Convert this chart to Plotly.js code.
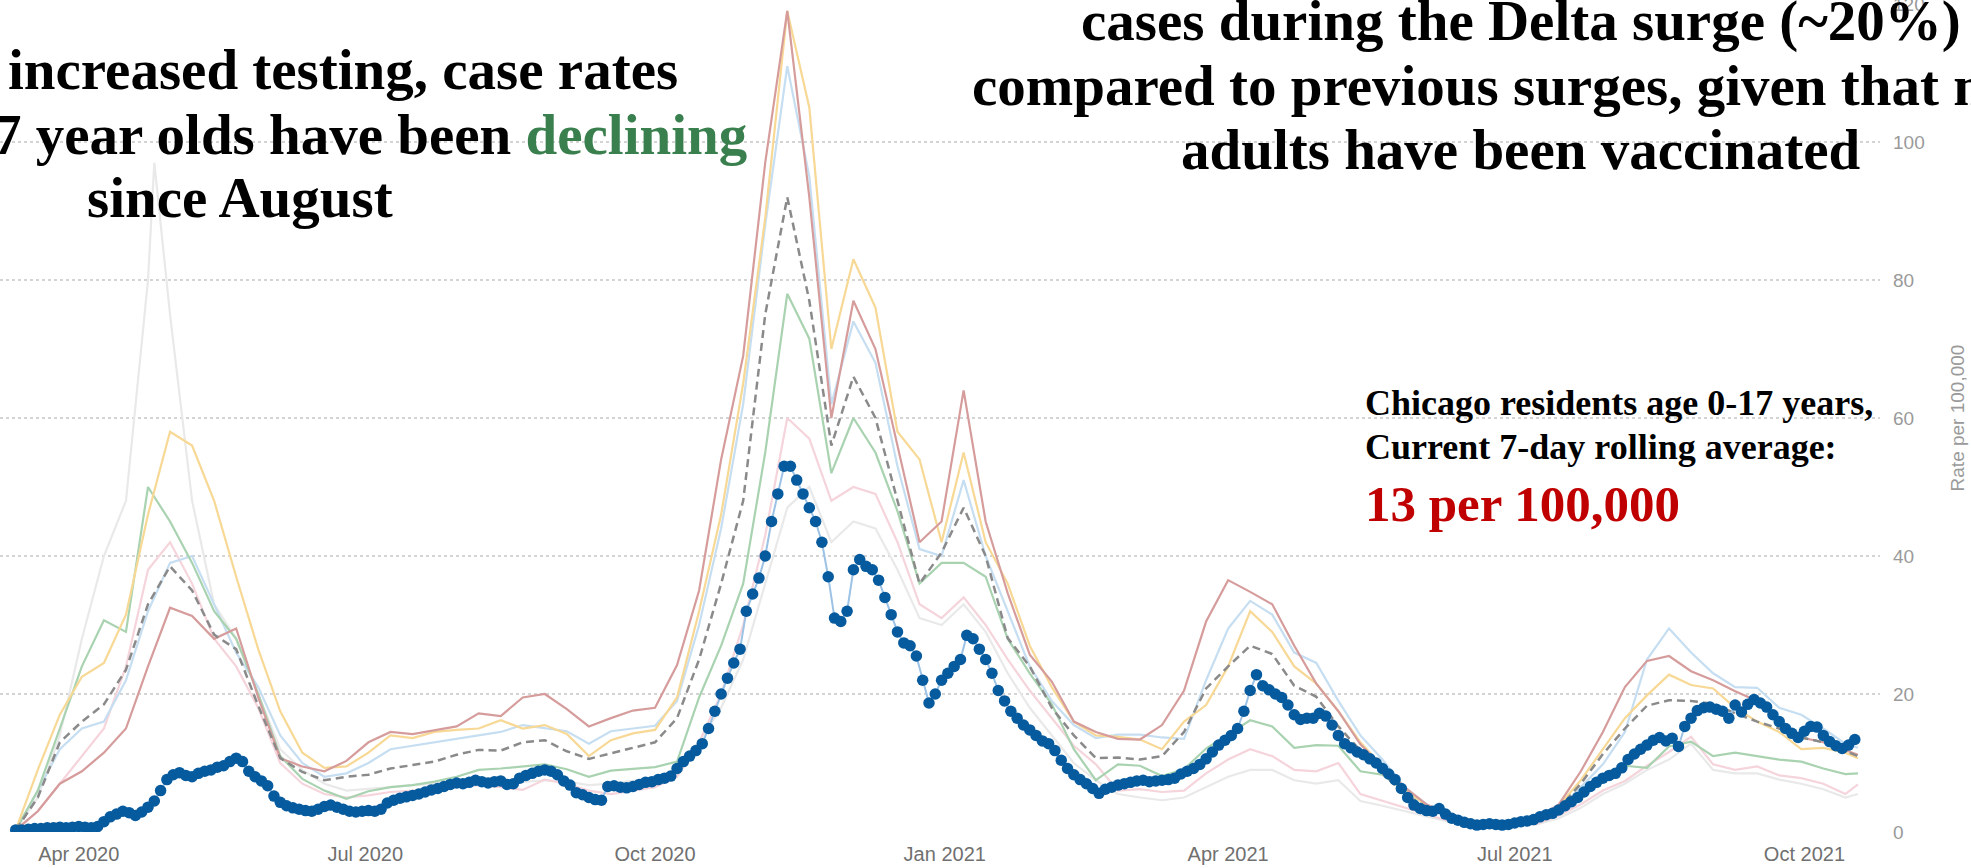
<!DOCTYPE html>
<html>
<head>
<meta charset="utf-8">
<script src="https://cdn.plot.ly/plotly-3.0.1.min.js"></script>
<style>
  html, body { margin:0; padding:0; background:#fff; }
  #chart { width:1971px; height:868px; }
</style>
</head>
<body>
<div id="chart"></div>
<script>
// ---------- DATA (rate per 100,000, 7-day rolling average) ----------
// Chicago residents age 0-17: one value every 2 days starting 2020-03-12
const rate0to17 = [
  0.3,0.3,0.4,0.5,0.5,0.6,0.6,0.7,0.6,0.7,
  0.8,0.7,0.6,0.8,1.5,2.2,2.6,3.0,2.8,2.4,
  2.9,3.6,4.5,6.0,7.6,8.3,8.6,8.2,8.0,8.5,
  8.8,9.0,9.4,9.6,10.2,10.7,10.2,8.8,8.0,7.4,
  6.7,5.2,4.3,3.8,3.5,3.3,3.1,3.0,3.3,3.7,
  3.9,3.6,3.3,3.0,2.9,3.0,3.1,3.0,3.3,4.2,
  4.6,4.9,5.1,5.3,5.5,5.8,6.1,6.3,6.6,6.9,
  7.1,7.0,7.2,7.5,7.3,7.1,7.3,7.4,6.9,7.0,
  7.8,8.2,8.5,8.8,9.0,8.8,8.3,7.4,6.8,5.7,
  5.4,5.0,4.7,4.6,6.6,6.7,6.5,6.4,6.6,6.9,
  7.2,7.3,7.6,7.8,8.1,9.2,10.2,11.0,11.8,12.8,
  15.0,17.5,20.0,22.3,24.5,26.5,32.0,34.5,36.8,40.0,
  45.0,49.0,53.0,53.0,51.0,49.0,47.0,45.0,42.0,37.0,
  31.0,30.5,32.0,38.0,39.5,38.5,38.0,36.5,34.0,31.5,
  29.0,27.4,27.0,25.5,22.0,18.7,20.0,22.0,23.0,24.0,
  25.0,28.5,28.0,26.5,25.0,23.0,20.5,19.0,17.5,16.5,
  15.5,14.8,14.0,13.2,12.8,11.8,10.4,9.2,8.3,7.6,
  7.0,6.3,5.6,6.2,6.5,6.8,7.0,7.2,7.4,7.5,
  7.3,7.4,7.5,7.6,7.8,8.4,8.8,9.2,9.8,10.6,
  11.6,12.6,13.3,14.0,15.0,17.5,20.5,22.8,21.2,20.6,
  20.0,19.5,18.4,17.0,16.3,16.5,16.5,17.2,16.8,15.5,
  14.0,12.8,12.2,11.6,11.2,10.6,10.0,9.2,8.4,7.6,
  6.3,5.0,3.9,3.4,3.1,3.0,3.4,2.6,2.0,1.7,
  1.4,1.2,1.0,1.1,1.2,1.1,1.0,1.1,1.3,1.5,
  1.6,1.8,2.2,2.5,2.7,3.2,3.8,4.4,5.0,5.8,
  6.6,7.2,7.8,8.2,8.5,9.3,10.5,11.3,12.0,12.6,
  13.3,13.7,13.2,13.6,12.4,15.3,16.5,17.6,18.0,18.1,
  17.8,17.5,16.5,18.4,17.4,18.5,19.2,18.7,18.1,17.0,
  16.0,15.0,14.3,13.7,14.6,15.3,15.2,14.0,13.1,12.5,
  12.1,12.6,13.4
];
const start0to17 = '2020-03-12';
const step0to17Days = 2;

// Other groups: one value per week starting 2020-03-12, last value on 2021-10-18
const weeklyStart = '2020-03-12';
const lastDate = '2021-10-18';

const rateCitywide = [
  0.3,5,13,16,18.5,23.5,33,38.5,35,28.6,
  26.5,18.3,10.7,8.7,7.5,8,8.3,9.2,9.7,10.2,
  11.2,11.9,11.8,13,13.3,11.7,10.6,11.4,12.1,13,
  16.5,25,36,48,75,92,77,56,66,60,
  48,36,40.5,47,40,28.1,24,18,14,10.7,
  10.8,10.5,11,14.5,20.8,24,27,25.8,21.2,19.6,
  15.3,11.8,8.5,5.5,3.6,2.2,1.4,1.1,1.2,1.7,
  3.4,7,11.3,15,18.3,19.1,19,18.6,17.2,16,
  15,13.7,13,11.7,11
];
const rateRose = [
  0.3,3,7,8.8,11.5,15,24,32.5,31.3,28,
  29.5,19.5,10.7,9.5,8.8,10.3,13,14.5,14.2,14.7,
  15.3,17.2,16.8,19.5,20,17.8,15.3,16.5,17.6,18,
  24.2,35,54,69,97,119,92,60,77,70,
  56,42,45,64,45,34.6,25.7,21.8,16,14.5,
  13.5,13.4,15.5,20.5,30.5,36.5,34.8,33,27,21.5,
  17.5,12.7,9.5,6.5,4,2.5,1.6,1.3,1.4,2,
  4,8.8,14.5,21,24.8,25.5,23.3,22,20.4,19,
  16,13.7,13,11.8,11.2
];
const rateYellow = [
  0.3,9,17,22.5,24.5,31.5,46,58,56,48,
  37,26.5,17.5,11.5,9.3,9.5,11.5,14,13.6,14.5,
  14.8,15,16.2,15,15.5,14.2,11,13.3,14.3,14.8,
  19.5,32,46,65,89,119,105,70,83,76,
  58,54,42,55,42,36,27,21,16,14,
  13.8,13.4,12,16,18.4,24,32,29,24,21.5,
  17.5,13,9.5,6.3,3.8,2.4,1.5,1.2,1.2,1.8,
  3.8,7.5,12,16.5,19.8,22.8,21.3,20.8,18,16,
  14.5,12,12.2,11.5,10.7
];
const rateLightBlue = [
  0.3,6,12,15,16,22,32,39,40,33,
  26,21,14,10,8,8.5,10,12,12.5,13,
  13.5,14,14.5,15.5,15.1,14.6,12.8,14.6,15,15.4,
  19,30,44,62,88,111,95,62,74,68,
  53,41,40,51,40,32,24,19,15.5,13.6,
  14.1,14.1,13.7,13.5,22,29.5,33.5,31.5,26,24.5,
  19,14,10.5,6.5,4,2.5,1.6,1.2,1.2,1.8,
  3.3,6.5,9.8,14.5,25,29.5,26,23,21,20.9,
  18,17,15,12.8,12.2
];
const rateGreen = [
  0.3,6,15,24,30.7,29,50,45,39,32,
  28,20,11,7.7,6,4.8,5.9,6.5,6.8,7.3,
  8,9,9.2,9.5,9.8,9.1,8,8.9,9.1,9.4,
  10.2,19.5,27,36,55,78,71.5,52,60,55,
  46.5,36,39,39,37,28,23,18.5,12,7.5,
  9.8,9.6,8.1,9.1,12.1,14.1,16.2,15.3,12.2,12.6,
  12.5,8.8,8.3,6,4,2.3,1.5,1.1,1.1,1.5,
  3.2,5,8.1,9.6,9.3,12.4,13.1,11,11.5,11,
  10.5,10.2,9.2,8.4,8.5
];
const ratePink = [
  0.2,3,7,11,15,24,38,42,36,28,
  24,18,10,7,5.5,5,5.3,5.8,6,6.4,
  6.6,6.8,6.5,6.1,7.6,7,6,5.5,6,6.5,
  8,13,20,30,43,60,57,48,50,49,
  42,33,31,34,30,25,20.5,16.5,12.5,9.8,
  6,6.2,5.8,6,8.5,10.5,12,11,9,8.8,
  10,5.5,4.5,3.5,2.5,1.6,1.1,0.9,0.9,1.2,
  2.4,4,6,7.4,9.6,11.6,13.8,9.8,9,9.5,
  8.2,7.8,7,5.5,6.9
];
// faint grey group: weekly plus its sharp spike on 2020-04-25
const greySpikeDate = '2020-04-25';
const greySpikeIndex = 7;
const rateGrey = [
  0.3,5,14,28,40,48,80,97,75,48,33,
  28,20,12,9,7,6,6.2,6.5,6.8,7,
  7.2,7.4,7,7.2,7.5,7.3,6.8,7,7.4,7.8,
  9,13,18,25,36,47,50,42,45,44,
  38,31,30,33,29,23,18,14,10,7.5,
  5.5,5,4.6,5,6.5,8,9,9,7.5,7,
  7.5,4.5,3.8,3,2.2,1.5,1,0.8,0.9,1.1,
  2,3.5,5.5,7,9,10.5,12.8,9,8.5,8.5,
  7.6,7,6.2,5,5.5
];

const xTickFormat = '%b %Y';
const yTitle = 'Rate per 100,000';

// ---------- helpers ----------
function dayList(start, stepDays, n) {
  const t0 = Date.parse(start + 'T00:00:00Z');
  const out = [];
  for (let i = 0; i < n; i++) out.push(new Date(t0 + i * stepDays * 86400000).toISOString().slice(0, 10));
  return out;
}
const dates0to17 = dayList(start0to17, step0to17Days, rate0to17.length);
const weeklyDates = dayList(weeklyStart, 7, rateCitywide.length - 1).concat([lastDate]);
const greyDates = weeklyDates.slice(0, greySpikeIndex).concat([greySpikeDate], weeklyDates.slice(greySpikeIndex));

function faint(y, color, x) {
  return { x: x || weeklyDates, y: y, type: 'scatter', mode: 'lines',
           line: { color: color, width: 2.2 }, hoverinfo: 'skip' };
}

const traces = [
  faint(rateGrey, '#e9e9e9', greyDates),
  faint(ratePink, '#f5d4db'),
  faint(rateLightBlue, '#c6def1'),
  faint(rateGreen, '#a9d3b0'),
  faint(rateYellow, '#f7d895'),
  faint(rateRose, '#d69c9c'),
  { x: weeklyDates, y: rateCitywide, type: 'scatter', mode: 'lines',
    line: { color: '#8a8a8a', width: 2.5, dash: '8px,5px' }, hoverinfo: 'skip' },
  { x: dates0to17, y: rate0to17, type: 'scatter', mode: 'lines+markers',
    line: { color: '#9cc2e5', width: 2 },
    marker: { color: '#065a9e', size: 11.5 }, hoverinfo: 'skip' }
];

// ---------- layout ----------
const W = 1971, H = 868, ML = 0, MR = 91, MT = 4, MB = 36;
const PW = W - ML - MR, PH = H - MT - MB;
const px = v => (v - ML) / PW;
const py = v => (H - MB - v) / PH;

const serif = 'Liberation Serif, Times New Roman, serif';
const big = 57;
function note(text, x, yBottom, anchor, size, color) {
  return { xref: 'paper', yref: 'paper', x: px(x), y: py(yBottom), xanchor: anchor, yanchor: 'bottom',
           text: text, showarrow: false, borderpad: 0,
           font: { family: serif, size: size, color: color || '#000', weight: 700 } };
}

const annotations = [
  note('<b>increased testing, case rates</b>', 679, 102, 'right', big),
  note('<b>7 year olds have been <span style="color:#3a804f">declining</span></b>', 748, 167, 'right', big),
  note('<b>since August</b>', 240, 230, 'center', big),
  note('<b>cases during the Delta surge (~20%)</b>', 1521, 54, 'center', big),
  note('<b>compared to previous surges, given that most</b>', 1521, 118, 'center', big),
  note('<b>adults have been vaccinated</b>', 1521, 182, 'center', big),
  note('<b>Chicago residents age 0-17 years,</b>', 1364, 424, 'left', 36),
  note('<b>Current 7-day rolling average:</b>', 1364, 468, 'left', 36),
  note('<b>13 per 100,000</b>', 1364, 533, 'left', 51, '#c00000')
];

const layout = {
  width: W, height: H,
  margin: { l: ML, r: MR, t: MT, b: MB, pad: 0 },
  paper_bgcolor: '#ffffff', plot_bgcolor: '#ffffff',
  showlegend: false,
  xaxis: {
    type: 'date', range: ['2020-03-07', '2021-10-25'],
    tick0: '2020-01-01', dtick: 'M3', tickformat: xTickFormat,
    showgrid: false, zeroline: false, showline: false, ticks: '',
    ticklabelstandoff: 8,
    tickfont: { family: 'Liberation Sans, Arial, sans-serif', size: 20, color: '#707070' },
    fixedrange: true
  },
  yaxis: {
    side: 'right', range: [0, 120], dtick: 20, tick0: 0,
    showgrid: true, gridcolor: '#d4d4d4', griddash: 'dot', gridwidth: 1.5,
    zeroline: false, showline: false, ticks: '',
    ticklabelstandoff: 12, ticklabeloverflow: 'allow',
    tickfont: { family: 'Liberation Sans, Arial, sans-serif', size: 19, color: '#9a9a9a' },
    title: { text: yTitle, standoff: 26,
             font: { family: 'Liberation Sans, Arial, sans-serif', size: 19, color: '#9a9a9a' } },
    fixedrange: true
  },
  annotations: annotations
};

Plotly.newPlot('chart', traces, layout, { displayModeBar: false, staticPlot: true });
</script>
</body>
</html>
